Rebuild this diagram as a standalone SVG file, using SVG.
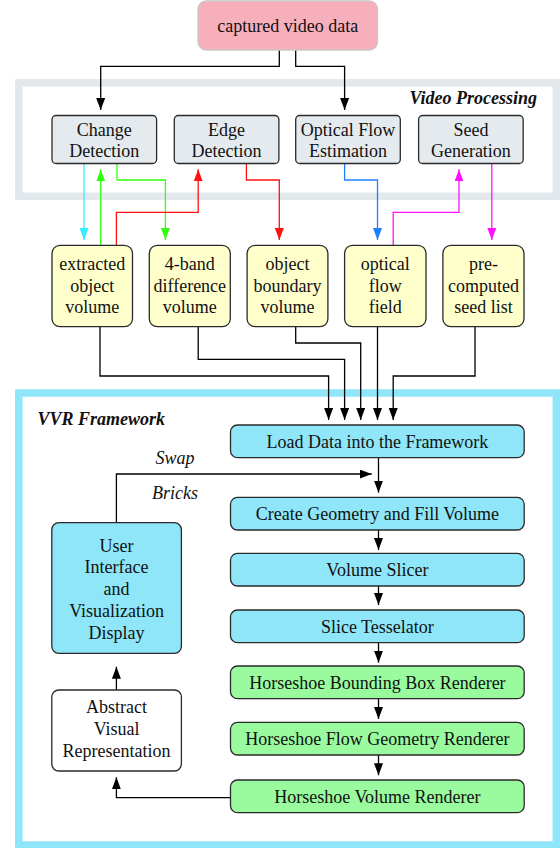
<svg xmlns="http://www.w3.org/2000/svg" width="560" height="848" viewBox="0 0 560 848">
<style>
text{font-family:"Liberation Serif","Times New Roman",serif;font-size:18px;fill:#111;text-anchor:middle}
.title{font-weight:bold;font-style:italic}
.it{font-style:italic}
.box{stroke:#2a2a2a;stroke-width:1.3}
.gray{fill:#e4eaee}
.yel{fill:#ffffcc}
.cy{fill:#8fe6f8}
.gr{fill:#9afb9e}
.wh{fill:#ffffff}
.ln{fill:none;stroke-width:1.3}
</style>
<defs>
<marker id="aK" markerUnits="userSpaceOnUse" markerWidth="12" markerHeight="9" refX="12" refY="4.5" orient="auto"><path d="M0,0 L12,4.5 L0,9 z" fill="#000"/></marker>
<marker id="aC" markerUnits="userSpaceOnUse" markerWidth="12" markerHeight="9" refX="12" refY="4.5" orient="auto"><path d="M0,0 L12,4.5 L0,9 z" fill="#33eeff"/></marker>
<marker id="aG" markerUnits="userSpaceOnUse" markerWidth="12" markerHeight="9" refX="12" refY="4.5" orient="auto"><path d="M0,0 L12,4.5 L0,9 z" fill="#33ff11"/></marker>
<marker id="aR" markerUnits="userSpaceOnUse" markerWidth="12" markerHeight="9" refX="12" refY="4.5" orient="auto"><path d="M0,0 L12,4.5 L0,9 z" fill="#ff1111"/></marker>
<marker id="aB" markerUnits="userSpaceOnUse" markerWidth="12" markerHeight="9" refX="12" refY="4.5" orient="auto"><path d="M0,0 L12,4.5 L0,9 z" fill="#1e80ff"/></marker>
<marker id="aM" markerUnits="userSpaceOnUse" markerWidth="12" markerHeight="9" refX="12" refY="4.5" orient="auto"><path d="M0,0 L12,4.5 L0,9 z" fill="#ff11ff"/></marker>
</defs>
<rect width="560" height="848" fill="#ffffff"/>

<g id="video-processing">
<rect x="18.8" y="82.8" width="537.5" height="113.5" fill="none" stroke="#e2e8ec" stroke-width="7.5"/>
<text class="title" x="537" y="103.5" style="text-anchor:end">Video Processing</text>
</g>
<g id="vvr-framework">
<rect x="18.8" y="393" width="537.5" height="452" fill="none" stroke="#8fe6f8" stroke-width="7.5"/>
<text class="title" x="37.5" y="424.5" style="text-anchor:start">VVR Framework</text>
</g>

<g id="connectors">
<path class="ln" stroke="#000" d="M279.3,50 V66.3 H100.7 V110" marker-end="url(#aK)"/>
<path class="ln" stroke="#000" d="M295.7,50 V66.3 H344.6 V110" marker-end="url(#aK)"/>
<path class="ln" stroke="#33eeff" d="M84,163.5 V240" marker-end="url(#aC)"/>
<path class="ln" stroke="#33ff11" d="M100.7,245.3 V169.3" marker-end="url(#aG)"/>
<path class="ln" stroke="#33ff11" d="M117,163.5 V180 H165.4 V240" marker-end="url(#aG)"/>
<path class="ln" stroke="#ff1111" d="M116.4,245.3 V212.3 H198.2 V169.3" marker-end="url(#aR)"/>
<path class="ln" stroke="#ff1111" d="M246.4,163.5 V180 H279.3 V240" marker-end="url(#aR)"/>
<path class="ln" stroke="#1e80ff" d="M344.6,163.5 V180 H377.5 V240" marker-end="url(#aB)"/>
<path class="ln" stroke="#ff11ff" d="M393.2,245.3 V212.3 H459 V169.3" marker-end="url(#aM)"/>
<path class="ln" stroke="#ff11ff" d="M491.8,163.5 V240" marker-end="url(#aM)"/>
<path class="ln" stroke="#000" d="M100,326.7 V376 H328.6 V420" marker-end="url(#aK)"/>
<path class="ln" stroke="#000" d="M198.2,326.7 V359.3 H344.6 V420" marker-end="url(#aK)"/>
<path class="ln" stroke="#000" d="M295.7,326.7 V343 H360.7 V420" marker-end="url(#aK)"/>
<path class="ln" stroke="#000" d="M377.5,326.7 V420" marker-end="url(#aK)"/>
<path class="ln" stroke="#000" d="M475,326.7 V376 H393.2 V420" marker-end="url(#aK)"/>
<path class="ln" stroke="#000" d="M378.5,457.7 V492.7" marker-end="url(#aK)"/>
<path class="ln" stroke="#000" d="M116.4,522.7 V474 H371.7" marker-end="url(#aK)"/>
<path class="ln" stroke="#000" d="M378.5,530 V550" marker-end="url(#aK)"/>
<path class="ln" stroke="#000" d="M378.5,586 V605" marker-end="url(#aK)"/>
<path class="ln" stroke="#000" d="M378.5,642.7 V662.7" marker-end="url(#aK)"/>
<path class="ln" stroke="#000" d="M378.5,698.7 V719" marker-end="url(#aK)"/>
<path class="ln" stroke="#000" d="M378.5,755 V775.3" marker-end="url(#aK)"/>
<path class="ln" stroke="#000" d="M230.5,797.7 H116.4 V777.3" marker-end="url(#aK)"/>
<path class="ln" stroke="#000" d="M116.4,690 V666.7" marker-end="url(#aK)"/>
<text class="it" x="175" y="464">Swap</text>
<text class="it" x="175" y="498.5">Bricks</text>
</g>

<g id="captured-video-data">
<rect x="198" y="1" width="179.5" height="49" rx="8" fill="#f7afbb" stroke="#c8c8c8" stroke-width="1.3"/>
<text x="287.8" y="31.5">captured video data</text>
</g>

<g id="change-detection">
<rect class="box gray" x="52" y="115.5" width="104.6" height="48" rx="4"/>
<text x="104.3" y="135.5">Change</text><text x="104.3" y="157">Detection</text>
</g>
<g id="edge-detection">
<rect class="box gray" x="174.3" y="115.5" width="104.6" height="48" rx="4"/>
<text x="226.6" y="135.5">Edge</text><text x="226.6" y="157">Detection</text>
</g>
<g id="optical-flow-estimation">
<rect class="box gray" x="295.7" y="115.5" width="104.6" height="48" rx="4"/>
<text x="348" y="135.5">Optical Flow</text><text x="348" y="157">Estimation</text>
</g>
<g id="seed-generation">
<rect class="box gray" x="418.6" y="115.5" width="104.6" height="48" rx="4"/>
<text x="470.9" y="135.5">Seed</text><text x="470.9" y="157">Generation</text>
</g>

<g id="extracted-object-volume">
<rect class="box yel" x="52" y="245.3" width="80.5" height="81.4" rx="8"/>
<text x="92.2" y="270">extracted</text><text x="92.2" y="291.5">object</text><text x="92.2" y="313">volume</text>
</g>
<g id="band-difference-volume">
<rect class="box yel" x="149.3" y="245.3" width="81" height="81.4" rx="8"/>
<text x="189.8" y="270">4-band</text><text x="189.8" y="291.5">difference</text><text x="189.8" y="313">volume</text>
</g>
<g id="object-boundary-volume">
<rect class="box yel" x="247.1" y="245.3" width="80.8" height="81.4" rx="8"/>
<text x="287.5" y="270">object</text><text x="287.5" y="291.5">boundary</text><text x="287.5" y="313">volume</text>
</g>
<g id="optical-flow-field">
<rect class="box yel" x="344.6" y="245.3" width="81.4" height="81.4" rx="8"/>
<text x="385.3" y="270">optical</text><text x="385.3" y="291.5">flow</text><text x="385.3" y="313">field</text>
</g>
<g id="pre-computed-seed-list">
<rect class="box yel" x="442.9" y="245.3" width="81.1" height="81.4" rx="8"/>
<text x="483.5" y="270">pre-</text><text x="483.5" y="291.5">computed</text><text x="483.5" y="313">seed list</text>
</g>

<g id="load-data">
<rect class="box cy" x="230.5" y="425" width="293.7" height="32.7" rx="7"/>
<text x="377.4" y="448">Load Data into the Framework</text>
</g>
<g id="create-geometry">
<rect class="box cy" x="230.5" y="497.3" width="293.7" height="32.7" rx="7"/>
<text x="377.4" y="520.3">Create Geometry and Fill Volume</text>
</g>
<g id="volume-slicer">
<rect class="box cy" x="230.5" y="553.3" width="293.7" height="32.7" rx="7"/>
<text x="377.4" y="576.3">Volume Slicer</text>
</g>
<g id="slice-tesselator">
<rect class="box cy" x="230.5" y="610" width="293.7" height="32.7" rx="7"/>
<text x="377.4" y="633">Slice Tesselator</text>
</g>
<g id="horseshoe-bounding-box-renderer">
<rect class="box gr" x="230.5" y="666" width="293.7" height="32.7" rx="7"/>
<text x="377.4" y="689">Horseshoe Bounding Box Renderer</text>
</g>
<g id="horseshoe-flow-geometry-renderer">
<rect class="box gr" x="230.5" y="722.3" width="293.7" height="32.7" rx="7"/>
<text x="377.4" y="745.3">Horseshoe Flow Geometry Renderer</text>
</g>
<g id="horseshoe-volume-renderer">
<rect class="box gr" x="230.5" y="780" width="293.7" height="32.7" rx="7"/>
<text x="377.4" y="803">Horseshoe Volume Renderer</text>
</g>

<g id="user-interface">
<rect class="box cy" x="51.8" y="522.7" width="129.6" height="130.6" rx="7"/>
<text x="116.6" y="551.7">User</text><text x="116.6" y="573.3">Interface</text><text x="116.6" y="595">and</text><text x="116.6" y="616.7">Visualization</text><text x="116.6" y="638.5">Display</text>
</g>
<g id="abstract-visual-representation">
<rect class="box wh" x="51.8" y="690" width="129.6" height="81" rx="7"/>
<text x="116.6" y="713.3">Abstract</text><text x="116.6" y="735">Visual</text><text x="116.6" y="756.7">Representation</text>
</g>
</svg>
